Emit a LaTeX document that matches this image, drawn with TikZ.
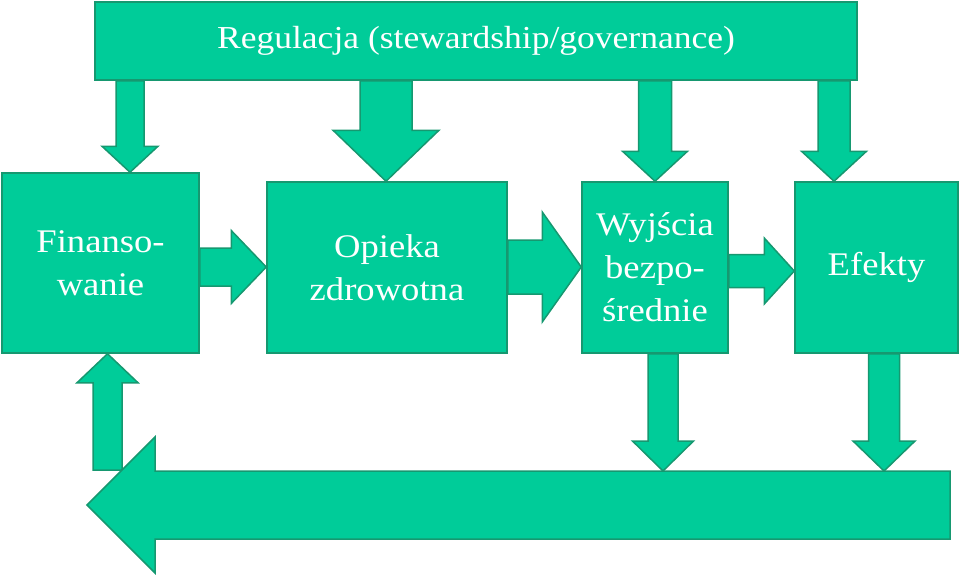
\documentclass[tikz,border=0pt]{standalone}
\usepackage{fontspec}
\setmainfont[FakeStretch=1.11]{Liberation Serif}
\usetikzlibrary{calc}
\definecolor{boxfill}{RGB}{0,204,153}
\definecolor{boxline}{RGB}{22,152,112}

% fat block arrow: start, tip, half shaft, half head, head length
\newcommand{\fatarrow}[5]{%
    \coordinate (fh) at ($(#2)!#5!(#1)$);
    \draw[blockarr] ($(#1)!#3!90:(#2)$) -- ($(fh)!#3!90:(#2)$) -- ($(fh)!#4!90:(#2)$) -- (#2)
        -- ($(fh)!#4!-90:(#2)$) -- ($(fh)!#3!-90:(#2)$) -- ($(#1)!#3!-90:(#2)$) -- cycle;
}

\begin{document}
\begin{tikzpicture}[x=1pt,y=-1pt,
    box/.style={draw=boxline,fill=boxfill,line width=1.5pt,text=white,align=center,inner sep=0pt,
        font=\fontsize{33}{43}\selectfont},
    blockarr/.style={draw=boxline,fill=boxfill,line width=1.5pt,line join=miter}]
    % \draw[help lines,step=20] (0,0) grid (960,579);
    \useasboundingbox (0,0) rectangle (960,579);

    \node[box,minimum width=762pt,minimum height=78pt,font=\fontsize{32}{38}\selectfont] (reg) at (476,41) {Regulacja (stewardship/governance)};
    \node[box,minimum width=197pt,minimum height=180pt] (fin) at (100.5,263) {Finanso-\\wanie};
    \node[box,minimum width=240pt,minimum height=171pt] (opi) at (387,267.5) {Opieka\\zdrowotna};
    \node[box,minimum width=146pt,minimum height=171pt] (wyj) at (655,267.5) {Wyjścia\\bezpo-\\średnie};
    \node[box,minimum width=163pt,minimum height=171pt] (efe) at (876.5,267.5) {Efekty};

    \foreach \x/\s/\h/\l/\t in {130/14/28/26/fin, 386/26/53/51/opi, 655/16.5/32.5/30/wyj, 834/16/32.5/30/efe}
    {
        \coordinate (top\t) at (reg.south -| \x,0);
        \coordinate (tip\t) at (\t.north -| \x,0);
        \fatarrow{top\t}{tip\t}{\s pt}{\h pt}{\l pt}
    }

    \coordinate (f1) at (fin.east |- 0,267);
    \coordinate (o1) at (opi.west |- 0,267);
    \fatarrow{f1}{o1}{19pt}{36.5pt}{35pt}
    \coordinate (o2) at (opi.east |- 0,267);
    \coordinate (w1) at (wyj.west |- 0,267);
    \fatarrow{o2}{w1}{27pt}{55pt}{39pt}
    \coordinate (w2) at (wyj.east |- 0,271);
    \coordinate (e1) at (efe.west |- 0,271);
    \fatarrow{w2}{e1}{16.5pt}{33pt}{30pt}

    % feedback loop
    \coordinate (loopR) at (950,505);
    \coordinate (loopL) at (87,505);
    \coordinate (up0) at (107.5,470);
    \coordinate (up1) at (fin.south -| up0);
    \fatarrow{up0}{up1}{14.5pt}{30.5pt}{29pt}
    \fatarrow{loopR}{loopL}{34pt}{68pt}{68pt}

    \foreach \x/\s/\h/\t in {663/15/30.5/wyj, 884/15.5/31/efe}
    {
        \coordinate (out\t) at (\t.south -| \x,0);
        \coordinate (in\t) at (\x,471);
        \fatarrow{out\t}{in\t}{\s pt}{\h pt}{30pt}
    }

\end{tikzpicture}
\end{document}
